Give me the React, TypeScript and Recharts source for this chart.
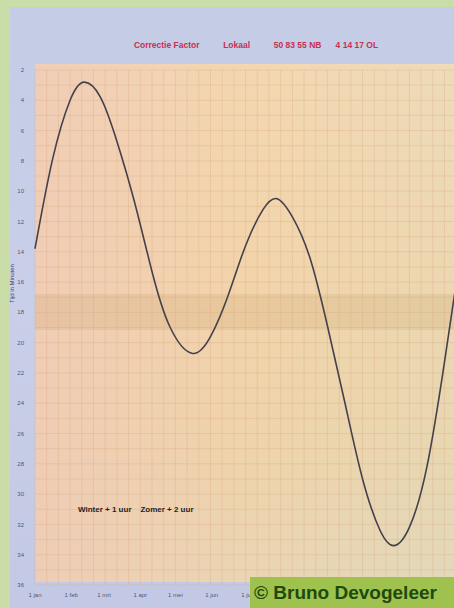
import { LineChart, Line, XAxis, YAxis, CartesianGrid } from "recharts";

// day of year (1 jan = 0) and correction in minutes
const days = [0, 15, 30, 42, 56, 70, 85, 100, 115, 134, 150, 165, 180, 195, 207, 220, 235, 250, 265, 280, 295, 307, 320, 335, 350, 364];
const minutes = [13.8, 7.9, 4.0, 2.8, 3.8, 6.7, 10.7, 15.3, 18.9, 20.7, 19.6, 16.9, 13.6, 11.2, 10.5, 11.7, 14.4, 18.9, 24.0, 29.0, 32.4, 33.4, 32.2, 28.2, 21.3, 14.0];

const monthDays = [0, 31, 59, 90, 120, 151, 181];
const monthLabels = ["1 jan", "1 feb", "1 mrt", "1 apr", "1 mei", "1 jun", "1 jul"];
const minuteTicks = [2, 4, 6, 8, 10, 12, 14, 16, 18, 20, 22, 24, 26, 28, 30, 32, 34, 36];
const gridMinutes = [2, 3, 4, 5, 6, 7, 8, 9, 10, 11, 12, 13, 14, 15, 16, 17, 18, 19, 20, 21, 22, 23, 24, 25, 26, 27, 28, 29, 30, 31, 32, 33, 34, 35, 36];
const gridDays = [0, 10, 20, 30, 40, 50, 60, 70, 80, 90, 100, 110, 120, 130, 140, 150, 160, 170, 180, 190, 200, 210, 220, 230, 240, 250, 260, 270, 280, 290, 300, 310, 320, 330, 340, 350, 360];

const data = days.map((d, i) => ({ day: d, min: minutes[i] }));

const monthName = (v: number) => {
  const i = monthDays.indexOf(v);
  return i >= 0 ? monthLabels[i] : "";
};

function AxisTitle(props: any) {
  const vb = props.viewBox || { x: 0, y: 0, width: 0, height: 0 };
  const cx = vb.x + 12;
  const cy = vb.y + vb.height / 2 - 44;
  return (
    <text
      x={cx}
      y={cy}
      transform={`rotate(-90 ${cx} ${cy})`}
      textAnchor="middle"
      dominantBaseline="central"
      fontSize={6}
      fill="#3d4258"
    >
      Tijd in Minuten
    </text>
  );
}

export default function App() {
  return (
    <div
      style={{
        position: "fixed",
        left: 0,
        top: 0,
        width: 454,
        height: 608,
        overflow: "hidden",
        background: "#cadca8",
        fontFamily: "'Liberation Sans', Arial, sans-serif",
      }}
    >
      {/* photographed sheet */}
      <div
        style={{
          position: "absolute",
          left: 10,
          top: 7,
          width: 444,
          height: 601,
          background: "linear-gradient(180deg, #c4cce6 0%, #c9cfe8 50%, #c3c9e4 100%)",
        }}
      />
      {/* plot paper */}
      <div
        style={{
          position: "absolute",
          left: 35,
          top: 64,
          width: 419,
          height: 518,
          background:
            "linear-gradient(90deg, rgba(240,204,182,0.9) 0%, rgba(244,214,172,0.6) 50%, rgba(232,222,186,0.5) 100%), linear-gradient(180deg, #f3d8b8 0%, #efd0a8 45%, #e6d0aa 75%, #dcd3bc 100%)",
        }}
      />
      {/* darker band across the paper */}
      <div
        style={{
          position: "absolute",
          left: 35,
          top: 294,
          width: 419,
          height: 36,
          background: "rgba(170,120,60,0.12)",
        }}
      />
      <div
        style={{
          position: "absolute",
          left: 0,
          top: 40,
          width: 512,
          textAlign: "center",
          color: "#c8304e",
          fontSize: 8.5,
          fontWeight: "bold",
          whiteSpace: "pre",
        }}
      >
        {"Correctie Factor          Lokaal          50 83 55 NB      4 14 17 OL"}
      </div>
      <div style={{ position: "absolute", left: 0, top: 0 }}>
        <LineChart
          width={480}
          height={608}
          data={data}
          margin={{ top: 70, right: 18, bottom: 0, left: 0 }}
        >
          <CartesianGrid
            stroke="#d9a276"
            strokeOpacity={0.4}
            strokeWidth={0.7}
            horizontalValues={gridMinutes}
            verticalValues={gridDays}
          />
          <XAxis
            dataKey="day"
            type="number"
            domain={[0, 365]}
            ticks={monthDays}
            tickFormatter={monthName}
            interval={0}
            height={23}
            axisLine={false}
            tickLine={false}
            tickMargin={2}
            tick={{ fontSize: 6, fill: "#4f5675" }}
          />
          <YAxis
            type="number"
            reversed
            domain={[2, 36]}
            ticks={minuteTicks}
            interval={0}
            width={35}
            axisLine={false}
            tickLine={false}
            tickMargin={5}
            tick={{ fontSize: 6, fill: "#4f5675" }}
            label={<AxisTitle />}
          />
          <Line
            type="natural"
            dataKey="min"
            stroke="#45414c"
            strokeWidth={1.6}
            dot={false}
            isAnimationActive={false}
          />
        </LineChart>
      </div>
      <div
        style={{
          position: "absolute",
          left: 78,
          top: 505,
          color: "#1e1e24",
          fontSize: 8,
          fontWeight: "bold",
          whiteSpace: "pre",
        }}
      >
        {"Winter + 1 uur    Zomer + 2 uur"}
      </div>
      <div
        style={{
          position: "absolute",
          left: 250,
          top: 577,
          width: 204,
          height: 31,
          background: "#9fc14e",
          color: "#1d4a0e",
          fontSize: 19,
          fontWeight: "bold",
          lineHeight: "31px",
          paddingLeft: 4,
          whiteSpace: "nowrap",
        }}
      >
        © Bruno Devogeleer
      </div>
    </div>
  );
}
